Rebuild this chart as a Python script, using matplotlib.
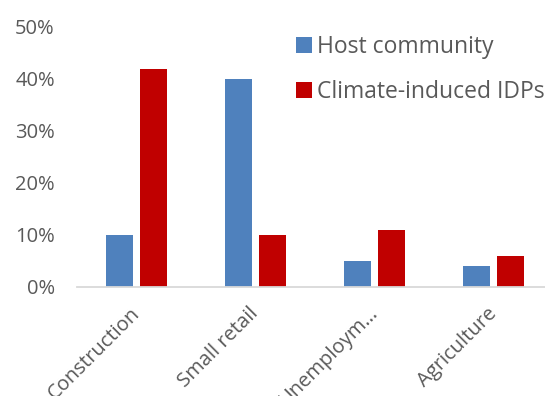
import matplotlib
matplotlib.use("Agg")
import matplotlib.pyplot as plt
import numpy as np

categories = ["Construction", "Small retail", "Unemploym\u2026", "Agriculture"]
host = [10, 40, 5, 4]
idps = [42, 10, 11, 6]
yticks = [0, 10, 20, 30, 40, 50]
ytick_labels = ["0%", "10%", "20%", "30%", "40%", "50%"]

plt.rcParams['font.family'] = ['Open Sans', 'DejaVu Sans']
gray = "#595959"

fig = plt.figure(figsize=(5.45, 3.96), dpi=100)
ax = fig.add_axes([77/545, 109/396, 476/545, 260/396])

x = np.arange(len(categories))
w = 0.227
off = 0.143
ax.bar(x - off, host, width=w, color="#4f81bd", label="Host community")
ax.bar(x + off, idps, width=w, color="#c00000", label="Climate-induced IDPs")

ax.set_xlim(-0.5, len(categories) - 0.5)
ax.set_ylim(0, 50)
ax.set_yticks(yticks)
ax.set_yticklabels(ytick_labels)
ax.set_xticks(x)
ax.set_xticklabels(categories, rotation=45, ha="right", va="center", rotation_mode="anchor")

for s in ["top", "right", "left"]:
    ax.spines[s].set_visible(False)
ax.spines["bottom"].set_color("#d9d9d9")
ax.spines["bottom"].set_linewidth(1.3)
ax.tick_params(axis="both", length=0, labelsize=14.5, colors=gray)
ax.tick_params(axis="y", pad=16)
ax.tick_params(axis="x", pad=17)

leg = fig.legend(loc="upper left", bbox_to_anchor=(296/545, 1 - 35/396),
                 frameon=False, fontsize=16.5, handlelength=0.68, handleheight=0.68,
                 handletextpad=0.25, labelspacing=0.92, borderaxespad=0, borderpad=0)
for t in leg.get_texts():
    t.set_color(gray)

fig.savefig("out.png", dpi=100)
